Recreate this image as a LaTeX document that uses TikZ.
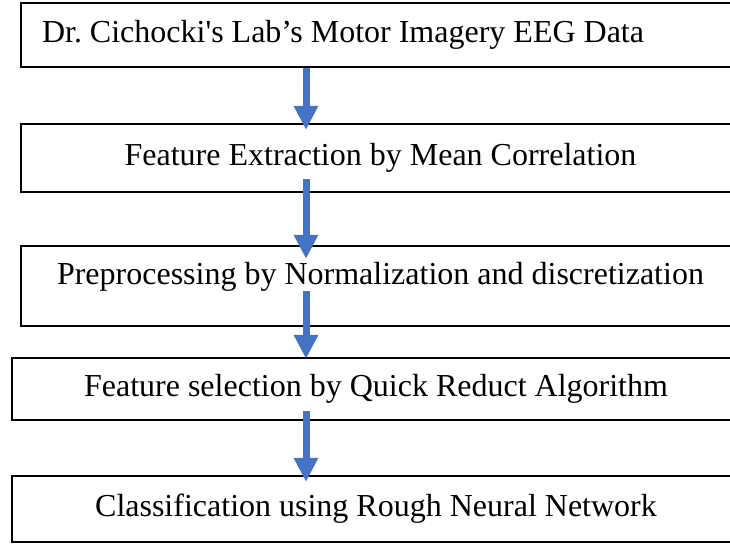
\documentclass[tikz,border=0pt]{standalone}
\usepackage{fontspec}
\setmainfont{Liberation Serif}
\usetikzlibrary{arrows.meta}
\definecolor{flowblue}{RGB}{68,114,196}

\begin{document}
\begin{tikzpicture}[x=0.5pt,y=-0.5pt,
    box/.style={draw,line width=1.15pt,rectangle,minimum width=359.5pt,
      text height=11pt,text depth=4pt,font=\fontsize{16}{19}\selectfont},
    flow/.style={draw=flowblue,line width=3.5pt,
      -{Triangle[length=12pt,width=11.5pt]}}]

  \useasboundingbox (0,0) rectangle (730,543);
  \clip (0,0) rectangle (730,543);

  \coordinate (ax) at (306,0);

  \node[box,minimum height=32pt,text width=338.5pt,inner xsep=10.5pt,align=flush left]
    (data) at (380.5,35) {Dr.\ Cichocki\textquotesingle s Lab’s Motor Imagery EEG Data};
  \node[box,minimum height=34pt] (extract) at (380.5,158)
    {Feature Extraction by Mean Correlation};
  \node[box,minimum height=40pt,text depth=13pt] (preproc) at (380.5,286)
    {Preprocessing by Normalization and discretization};
  \node[box,minimum width=364pt,minimum height=31pt] (select) at (376,389)
    {Feature selection by Quick Reduct Algorithm};
  \node[box,minimum width=364pt,minimum height=33pt] (classify) at (376,509)
    {Classification using Rough Neural Network};

  \draw[flow] (data.south -| ax) -- ([yshift=-3.5pt]extract.north -| ax);
  \draw[flow] ([yshift=7pt]extract.south -| ax) -- ([yshift=-7pt]preproc.north -| ax);
  \draw[flow] ([yshift=18pt]preproc.south -| ax) -- ([yshift=-1pt]select.north -| ax);
  \draw[flow] ([yshift=5pt]select.south -| ax) -- ([yshift=-3.5pt]classify.north -| ax);

\end{tikzpicture}
\end{document}
